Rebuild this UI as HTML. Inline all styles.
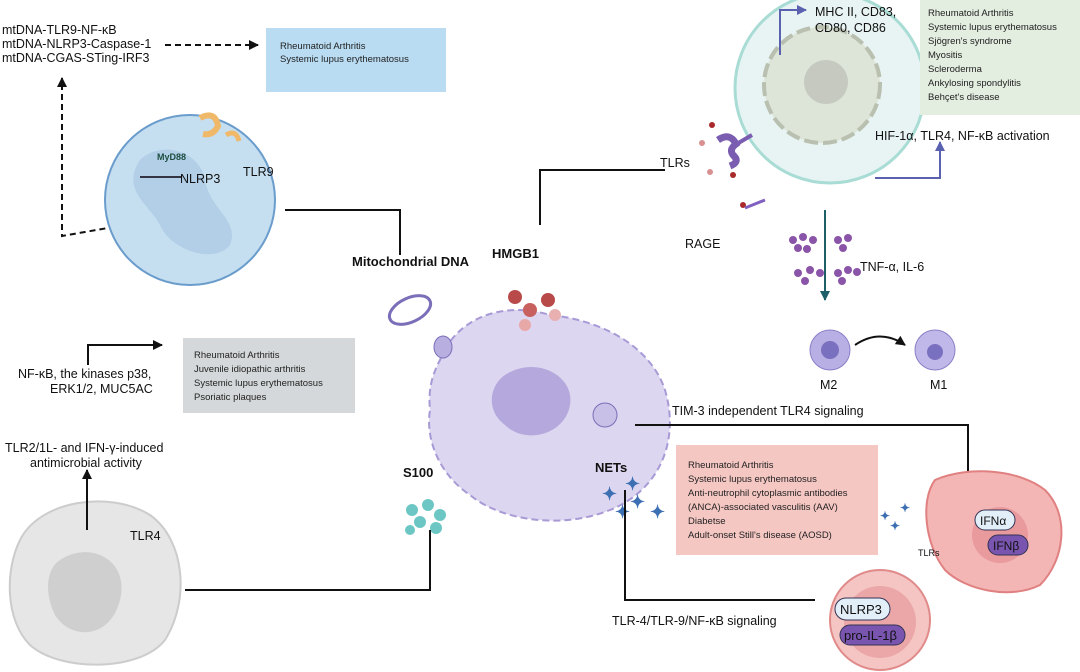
<!DOCTYPE html>
<html><head><meta charset="utf-8"><style>
body{margin:0;background:#fff}
svg{display:block;font-family:"Liberation Sans",sans-serif}
.s{font-size:12.5px;fill:#111}
.b{font-size:13px;font-weight:bold;fill:#111}
.t{font-size:9.5px;fill:#222}
</style></head><body>
<svg width="1080" height="672" viewBox="0 0 1080 672" xmlns="http://www.w3.org/2000/svg">
<defs>
<marker id="a" markerUnits="userSpaceOnUse" markerWidth="12" markerHeight="12" refX="9" refY="5" orient="auto"><path d="M0,0L10,5L0,10z" fill="#111"/></marker>
<marker id="p" markerUnits="userSpaceOnUse" markerWidth="12" markerHeight="12" refX="9" refY="5" orient="auto"><path d="M0,0L10,5L0,10z" fill="#5a62b0"/></marker>
<marker id="g" markerUnits="userSpaceOnUse" markerWidth="12" markerHeight="12" refX="9" refY="5" orient="auto"><path d="M0,0L10,5L0,10z" fill="#1f5f6a"/></marker>
</defs>
<!-- top left -->
<text class="s" x="2" y="34">mtDNA-TLR9-NF-κB</text>
<text class="s" x="2" y="48">mtDNA-NLRP3-Caspase-1</text>
<text class="s" x="2" y="62">mtDNA-CGAS-STing-IRF3</text>
<line x1="165" y1="45" x2="258" y2="45" stroke="#111" stroke-width="2" stroke-dasharray="6,4" marker-end="url(#a)"/>
<path d="M125,225 L62,236 L62,78" fill="none" stroke="#111" stroke-width="2" stroke-dasharray="6,4" marker-end="url(#a)"/>
<rect x="266" y="28" width="180" height="64" fill="#b9dcf3"/>
<text class="t" x="280" y="49">Rheumatoid Arthritis</text>
<text class="t" x="280" y="62">Systemic lupus erythematosus</text>
<circle cx="190" cy="200" r="85" fill="#c6dff0" stroke="#6a9ccc" stroke-width="2"/>
<path d="M140,160 C160,140 200,150 205,180 C210,210 240,220 230,245 C215,265 170,250 160,225 C150,205 120,190 140,160z" fill="#aac8e2" opacity=".7"/>
<line x1="140" y1="177" x2="182" y2="177" stroke="#334" stroke-width="2"/>
<text x="157" y="160" font-size="9" font-weight="bold" fill="#1d4d40">MyD88</text>
<text class="s" x="180" y="183" font-size="14">NLRP3</text>
<text class="s" x="243" y="176" font-size="14">TLR9</text>
<path d="M200,118 q15,-8 18,8 q-5,10 -15,8" fill="none" stroke="#f0b96a" stroke-width="6"/>
<path d="M226,135 q10,-6 13,6" fill="none" stroke="#f0b96a" stroke-width="5"/>
<!-- mito DNA -->
<polyline points="285,210 400,210 400,255" fill="none" stroke="#111" stroke-width="2"/>
<text class="b" x="352" y="266">Mitochondrial DNA</text>
<ellipse cx="410" cy="310" rx="22" ry="12" fill="#fff" stroke="#7a6fb8" stroke-width="3" transform="rotate(-25 410 310)"/>
<!-- center cell -->
<path d="M440,360 C455,320 500,300 550,315 C600,320 650,345 665,390 C680,440 660,490 610,510 C560,530 500,520 470,495 C440,475 425,440 430,410 C428,390 432,375 440,360z" fill="#dcd6f0" stroke="#a99ad6" stroke-width="2" stroke-dasharray="7,4"/>
<path d="M505,375 C535,355 575,375 570,405 C565,435 525,445 505,425 C485,410 490,385 505,375z" fill="#b5a8dc"/>
<ellipse cx="443" cy="347" rx="9" ry="11" fill="#b8aee0" stroke="#7a6fb8"/>
<circle cx="605" cy="415" r="12" fill="#c8c0e6" stroke="#7a6fb8"/>
<!-- HMGB1 -->
<polyline points="540,225 540,170 665,170" fill="none" stroke="#111" stroke-width="2"/>
<text class="b" x="492" y="258">HMGB1</text>
<circle cx="515" cy="297" r="7" fill="#b84a4a"/><circle cx="548" cy="300" r="7" fill="#b84a4a"/><circle cx="530" cy="310" r="7" fill="#c96060"/><circle cx="555" cy="315" r="6" fill="#e8b0b0"/><circle cx="525" cy="325" r="6" fill="#e8a8a8"/>
<!-- top right cell -->
<circle cx="830" cy="88" r="95" fill="#e8f4f3" stroke="#a8dcd5" stroke-width="3"/>
<circle cx="822" cy="85" r="58" fill="#dde4d8" stroke="#b9c0b0" stroke-width="4" stroke-dasharray="14,5"/>
<circle cx="826" cy="82" r="22" fill="#c5c9c0"/>
<polyline points="780,55 780,10 806,10" fill="none" stroke="#5a62b0" stroke-width="2" marker-end="url(#p)"/>
<text class="s" x="815" y="16">MHC II, CD83,</text>
<text class="s" x="815" y="32">CD80,  CD86</text>
<rect x="920" y="0" width="160" height="115" fill="#e3ede0"/>
<text x="928" y="16" class="t">Rheumatoid Arthritis</text><text x="928" y="30" class="t">Systemic lupus erythematosus</text><text x="928" y="44" class="t">Sjögren's syndrome</text><text x="928" y="58" class="t">Myositis</text><text x="928" y="72" class="t">Scleroderma</text><text x="928" y="86" class="t">Ankylosing spondylitis</text><text x="928" y="100" class="t">Behçet's disease</text>
<text class="s" x="875" y="140">HIF-1α, TLR4, NF-κB activation</text>
<polyline points="875,178 940,178 940,142" fill="none" stroke="#5a62b0" stroke-width="2" marker-end="url(#p)"/>
<text class="s" x="660" y="167" font-size="15">TLRs</text>
<text class="s" x="685" y="248" font-size="15">RAGE</text>
<path d="M718,140 q12,-8 18,4 q-8,6 -2,12 q6,6 -4,10" fill="none" stroke="#7a5cb0" stroke-width="7"/>
<line x1="735" y1="145" x2="752" y2="135" stroke="#7a5cb0" stroke-width="4"/>
<circle cx="712" cy="125" r="3" fill="#a82a2a"/><circle cx="702" cy="143" r="3" fill="#d89090"/><circle cx="733" cy="175" r="3" fill="#a82a2a"/><circle cx="743" cy="205" r="3" fill="#a82a2a"/><circle cx="710" cy="172" r="3" fill="#d89090"/>
<line x1="745" y1="208" x2="765" y2="200" stroke="#8060c0" stroke-width="3"/>
<line x1="825" y1="210" x2="825" y2="300" stroke="#1f5f6a" stroke-width="2" marker-end="url(#g)"/>
<g fill="#8a55a8"><circle cx="793" cy="240" r="4"/><circle cx="803" cy="237" r="4"/><circle cx="813" cy="240" r="4"/><circle cx="798" cy="248" r="4"/><circle cx="807" cy="249" r="4"/><circle cx="838" cy="240" r="4"/><circle cx="848" cy="238" r="4"/><circle cx="843" cy="248" r="4"/><circle cx="798" cy="273" r="4"/><circle cx="810" cy="270" r="4"/><circle cx="820" cy="273" r="4"/><circle cx="805" cy="281" r="4"/><circle cx="838" cy="273" r="4"/><circle cx="848" cy="270" r="4"/><circle cx="857" cy="272" r="4"/><circle cx="842" cy="281" r="4"/></g>
<text class="s" x="860" y="271" font-size="14">TNF-α,   IL-6</text>
<circle cx="830" cy="350" r="20" fill="#b8b0e4" stroke="#8a80c8"/><circle cx="830" cy="350" r="9" fill="#7a70c0"/>
<circle cx="935" cy="350" r="20" fill="#c0b8e8" stroke="#8a80c8"/><circle cx="935" cy="352" r="8" fill="#7a70c0"/>
<path d="M855,345 Q880,328 905,345" fill="none" stroke="#111" stroke-width="2" marker-end="url(#a)"/>
<text class="s" x="820" y="389">M2</text><text class="s" x="930" y="389">M1</text>
<!-- NETs -->
<text class="s" x="672" y="415">TIM-3 independent TLR4 signaling</text>
<polyline points="635,425 968,425 968,472" fill="none" stroke="#111" stroke-width="2"/>
<rect x="676" y="445" width="202" height="110" fill="#f5c7c3"/>
<text class="t" x="688" y="468">Rheumatoid Arthritis</text><text class="t" x="688" y="482">Systemic lupus erythematosus</text><text class="t" x="688" y="496">Anti-neutrophil cytoplasmic antibodies</text><text class="t" x="688" y="510">(ANCA)-associated vasculitis (AAV)</text><text class="t" x="688" y="524">Diabetse</text><text class="t" x="688" y="538">Adult-onset Still's disease (AOSD)</text>
<text class="b" x="595" y="472">NETs</text>
<g fill="#3d6fb3" font-size="18" font-weight="bold"><text x="602" y="500">✦</text><text x="625" y="490">✦</text><text x="630" y="508">✦</text><text x="615" y="518">✦</text><text x="650" y="518">✦</text><text x="880" y="520" font-size="12">✦</text><text x="900" y="512" font-size="12">✦</text><text x="890" y="530" font-size="12">✦</text></g>
<polyline points="625,490 625,600 815,600" fill="none" stroke="#111" stroke-width="2"/>
<text class="s" x="612" y="625">TLR-4/TLR-9/NF-κB signaling</text>
<path d="M935,480 C970,465 1020,470 1045,490 C1070,515 1065,560 1040,585 C1010,600 965,590 945,570 C925,545 920,500 935,480z" fill="#f3b6b5" stroke="#e08080" stroke-width="2"/>
<circle cx="1000" cy="535" r="28" fill="#e99a9c"/>
<rect x="975" y="510" width="40" height="20" rx="10" fill="#e2eef8" stroke="#335"/>
<text x="980" y="525" font-size="12" fill="#111">IFNα</text>
<rect x="988" y="535" width="40" height="20" rx="10" fill="#7a55b0" stroke="#335"/>
<text x="993" y="550" font-size="12" fill="#111">IFNβ</text>
<text x="918" y="556" font-size="9" fill="#111">TLRs</text>
<circle cx="880" cy="620" r="50" fill="#f5c5c3" stroke="#e08a8a" stroke-width="2"/>
<circle cx="880" cy="622" r="36" fill="#eba6a8"/>
<rect x="835" y="598" width="55" height="22" rx="11" fill="#e2eef8" stroke="#335"/>
<text x="840" y="614" font-size="13" fill="#111">NLRP3</text>
<rect x="840" y="625" width="65" height="20" rx="10" fill="#7a55b0" stroke="#335"/>
<text x="844" y="640" font-size="13" fill="#111">pro-IL-1β</text>
<!-- S100 -->
<text class="b" x="403" y="477">S100</text>
<g fill="#6cc7c4"><circle cx="412" cy="510" r="6"/><circle cx="428" cy="505" r="6"/><circle cx="440" cy="515" r="6"/><circle cx="420" cy="522" r="6"/><circle cx="436" cy="528" r="6"/><circle cx="410" cy="530" r="5"/></g>
<polyline points="430,530 430,590 185,590" fill="none" stroke="#111" stroke-width="2"/>
<!-- bottom left cell -->
<path d="M20,540 C40,500 110,490 150,515 C185,540 190,600 165,640 C140,672 60,672 30,645 C5,620 5,570 20,540z" fill="#e6e6e6" stroke="#ccc" stroke-width="2"/>
<path d="M60,560 C90,540 130,560 120,600 C110,640 70,640 55,615 C45,595 45,570 60,560z" fill="#cfcfcf"/>
<text class="s" x="130" y="540">TLR4</text>
<line x1="87" y1="530" x2="87" y2="470" stroke="#111" stroke-width="2" marker-end="url(#a)"/>
<text class="s" x="5" y="452">TLR2/1L- and IFN-γ-induced</text>
<text class="s" x="30" y="467">antimicrobial activity</text>
<text class="s" x="18" y="378">NF-κB,  the kinases p38,</text>
<text class="s" x="50" y="393">ERK1/2, MUC5AC</text>
<polyline points="88,365 88,345 162,345" fill="none" stroke="#111" stroke-width="2" marker-end="url(#a)"/>
<rect x="183" y="338" width="172" height="75" fill="#d5d8da"/>
<text class="t" x="194" y="358">Rheumatoid Arthritis</text><text class="t" x="194" y="372">Juvenile idiopathic arthritis</text><text class="t" x="194" y="386">Systemic lupus erythematosus</text><text class="t" x="194" y="400">Psoriatic plaques</text>
</svg>
</body></html>
